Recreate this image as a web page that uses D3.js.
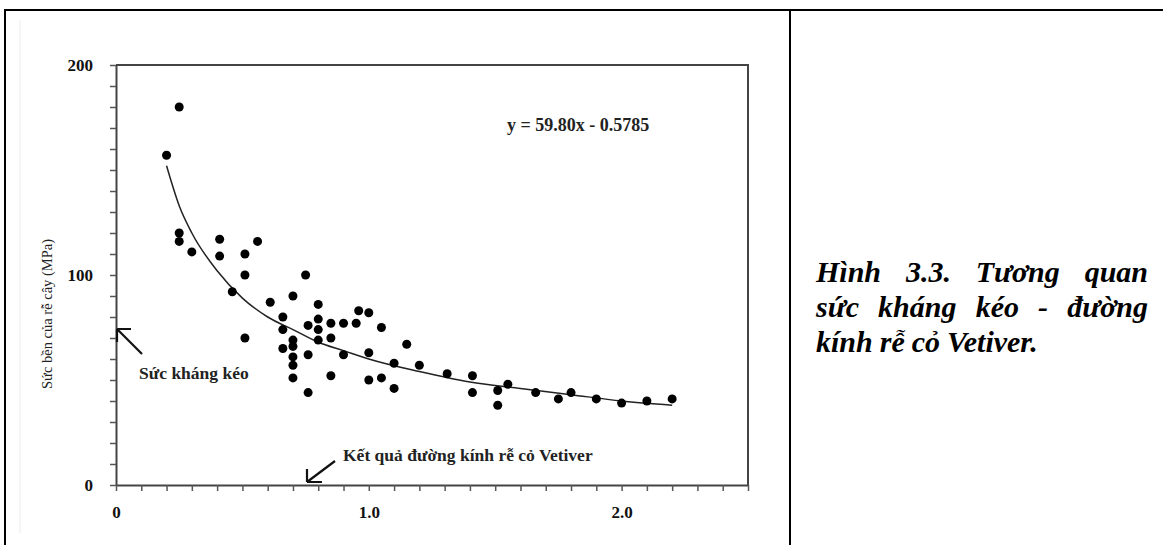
<!DOCTYPE html>
<html>
<head>
<meta charset="utf-8">
<script src="https://cdn.jsdelivr.net/npm/d3@7"></script>
<style>
  body { margin: 0; background: #fff; }
  svg { display: block; }
</style>
</head>
<body>
<script>
// root diameter (mm) vs tensile strength (MPa)
var diameter = [0.20, 0.25, 0.25, 0.25, 0.30, 0.41, 0.41, 0.46, 0.51, 0.51, 0.51, 0.56, 0.61,
  0.66, 0.66, 0.66, 0.70, 0.70, 0.70, 0.70, 0.70, 0.70, 0.75, 0.76, 0.76, 0.76,
  0.80, 0.80, 0.80, 0.80, 0.85, 0.85, 0.85, 0.90, 0.90, 0.95, 0.96, 1.00, 1.00, 1.00,
  1.05, 1.05, 1.10, 1.10, 1.15, 1.20, 1.31, 1.41, 1.41, 1.51, 1.51, 1.55, 1.66, 1.75,
  1.80, 1.90, 2.00, 2.10, 2.20];
var strength = [157, 180, 120, 116, 111, 117, 109, 92, 110, 100, 70, 116, 87,
  80, 74, 65, 90, 69, 66, 61, 57, 51, 100, 76, 62, 44,
  86, 79, 74, 69, 77, 70, 52, 77, 62, 77, 83, 82, 63, 50,
  75, 51, 58, 46, 67, 57, 53, 52, 44, 45, 38, 48, 44, 41,
  44, 41, 39, 40, 41];

// trend curve, points
var fitX = [0.2, 0.25, 0.3, 0.4, 0.5, 0.6, 0.7, 0.8, 0.9, 1.0, 1.2, 1.4, 1.6, 1.8, 2.0, 2.2];
var fitY = [152, 133, 120, 102, 89, 80, 74, 68, 64, 60, 54, 49, 46, 43, 40, 38];

var yLabels = {0: "0", 100: "100", 200: "200"};
var xLabels = {0: "0", 1: "1.0", 2: "2.0"};

var equation = "y = 59.80x - 0.5785";
var yTitle = "Sức bền của rễ cây (MPa)";
var note1 = "Sức kháng kéo";
var note2 = "Kết quả đường kính rễ cỏ Vetiver";
var caption = ["Hình 3.3. Tương quan", "sức kháng kéo - đường", "kính rễ cỏ Vetiver."];

var W = 1163, H = 545;
var mLeft = 116, mRight = 748, mTop = 65, mBottom = 485; // plot box in px
var serif = "'Liberation Serif', 'Times New Roman', serif";

var svg = d3.select("body").append("svg").attr("width", W).attr("height", H);

// table borders of the page
svg.append("line").attr("x1", 5).attr("x2", W).attr("y1", 10).attr("y2", 10)
  .attr("stroke", "#000").attr("stroke-width", 2);
svg.append("line").attr("x1", 5).attr("x2", 5).attr("y1", 9).attr("y2", H)
  .attr("stroke", "#000").attr("stroke-width", 2);
svg.append("line").attr("x1", 790).attr("x2", 790).attr("y1", 9).attr("y2", H)
  .attr("stroke", "#000").attr("stroke-width", 2);
// faint edge of the pasted picture
svg.append("line").attr("x1", 20).attr("x2", 20).attr("y1", 20).attr("y2", 533)
  .attr("stroke", "#ececec").attr("stroke-width", 1);

var x = d3.scaleLinear().domain([0, 2.5]).range([mLeft, mRight]);
var y = d3.scaleLinear().domain([0, 200]).range([mBottom, mTop]);

// frame top and right
svg.append("path")
  .attr("d", "M" + mLeft + "," + mTop + "H" + mRight + "V" + mBottom)
  .attr("fill", "none").attr("stroke", "#444").attr("stroke-width", 2);

var yAxis = d3.axisLeft(y).tickValues(d3.range(0, 201, 10)).tickSize(6).tickSizeOuter(0)
  .tickPadding(17).tickFormat(function (d) { return yLabels[d] || ""; });
var gy = svg.append("g").attr("transform", "translate(" + mLeft + ",0)").call(yAxis);

var xAxis = d3.axisBottom(x).tickValues(d3.range(0, 26).map(function (i) { return i / 10; }))
  .tickSize(6).tickSizeOuter(0).tickPadding(15)
  .tickFormat(function (d) { return xLabels[d] || ""; });
var gx = svg.append("g").attr("transform", "translate(0," + mBottom + ")").call(xAxis);

[gx, gy].forEach(function (g) {
  g.select(".domain").attr("stroke", "#444").attr("stroke-width", 2);
  g.selectAll(".tick line").attr("stroke", "#555").attr("stroke-width", 1.5);
  g.selectAll(".tick text").attr("fill", "#111").style("font-family", serif)
    .style("font-size", "17px").style("font-weight", "bold");
});

// y title
svg.append("text")
  .attr("transform", "translate(52,314) rotate(-90)")
  .attr("text-anchor", "middle")
  .style("font-family", serif).style("font-size", "14.5px").attr("fill", "#222")
  .text(yTitle);

// trend curve
var line = d3.line().x(function (d) { return x(d[0]); }).y(function (d) { return y(d[1]); })
  .curve(d3.curveMonotoneX);
svg.append("path").datum(d3.zip(fitX, fitY)).attr("d", line)
  .attr("fill", "none").attr("stroke", "#222").attr("stroke-width", 1.5);

// points
svg.selectAll("circle.pt").data(d3.zip(diameter, strength)).enter().append("circle")
  .attr("class", "pt")
  .attr("cx", function (d) { return x(d[0]); })
  .attr("cy", function (d) { return y(d[1]); })
  .attr("r", 4.5)
  .attr("fill", "#000");

// equation
svg.append("text").attr("x", 507).attr("y", 131)
  .style("font-family", serif).style("font-size", "18px").style("font-weight", "bold")
  .attr("fill", "#222").text(equation);

// annotations with arrows
svg.append("text").attr("x", 139).attr("y", 379)
  .style("font-family", serif).style("font-size", "17.5px").style("font-weight", "bold")
  .attr("fill", "#222").text(note1);
svg.append("text").attr("x", 343).attr("y", 461)
  .style("font-family", serif).style("font-size", "17.5px").style("font-weight", "bold")
  .attr("fill", "#222").text(note2);

var arrows = [
  "M142,354L117,329M117,329H131M117,329V342",
  "M335,461L307,482M307,482H322M307,482V469"
];
svg.selectAll("path.arrow").data(arrows).enter().append("path")
  .attr("class", "arrow").attr("d", function (d) { return d; })
  .attr("fill", "none").attr("stroke", "#111").attr("stroke-width", 2.2);

// caption in the right cell, justified
var capLeft = 816, capRight = 1148, capBase = 282, capStep = 35;
caption.forEach(function (ln, i) {
  var words = ln.split(" ");
  var yy = capBase + i * capStep;
  var nodes = words.map(function (w) {
    return svg.append("text").attr("y", yy)
      .style("font-family", serif).style("font-size", "30px")
      .style("font-weight", "bold").style("font-style", "italic")
      .attr("fill", "#000").text(w);
  });
  var widths = nodes.map(function (n) { return n.node().getComputedTextLength(); });
  var justify = i < caption.length - 1;
  var gap = justify ? (capRight - capLeft - d3.sum(widths)) / (words.length - 1) : 7;
  var cx = capLeft;
  nodes.forEach(function (n, j) {
    n.attr("x", cx);
    cx += widths[j] + gap;
  });
});
</script>
</body>
</html>
